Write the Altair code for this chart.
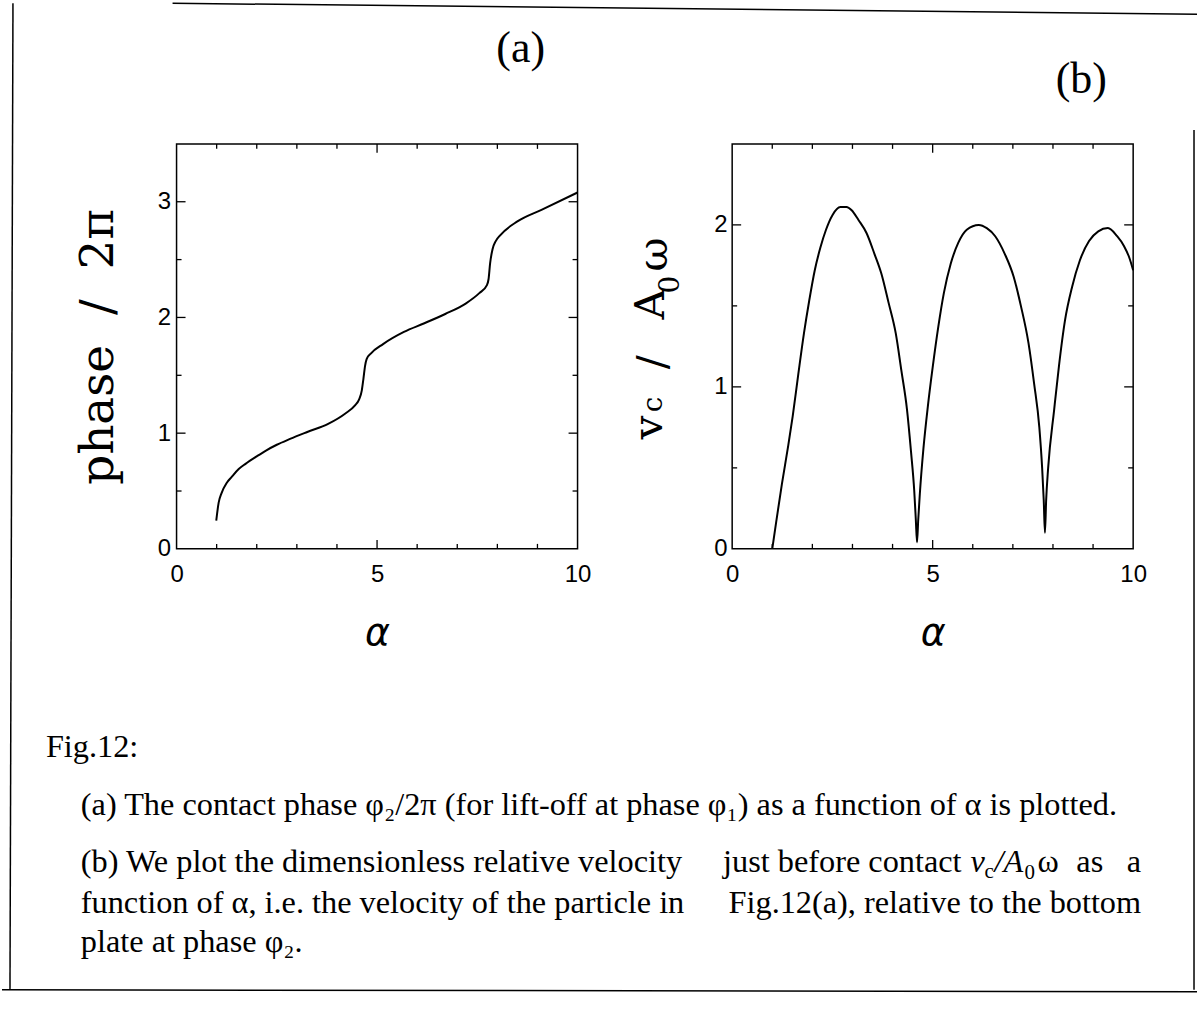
import altair as alt
import pandas as pd

# ---------------- data ----------------
alpha_a = [0.99, 1.05, 1.12, 1.25, 1.37, 1.55, 1.72, 2.0, 2.23, 2.5, 2.83, 3.26, 3.78, 4.21,
           4.45, 4.55, 4.62, 4.66, 4.70, 4.74, 4.85, 5.15, 5.67, 6.18, 6.70, 7.21, 7.55, 7.74,
           7.78, 7.82, 7.88, 7.96, 8.07, 8.50, 9.10, 10.0]
phase_a = [0.245, 0.40, 0.48, 0.57, 0.62, 0.69, 0.735, 0.80, 0.85, 0.90, 0.95, 1.01, 1.08, 1.17,
           1.24, 1.29, 1.37, 1.47, 1.58, 1.64, 1.69, 1.77, 1.875, 1.95, 2.03, 2.12, 2.21, 2.28,
           2.33, 2.47, 2.59, 2.66, 2.71, 2.83, 2.93, 3.08]

alpha_b = [1.0, 1.1, 1.24, 1.4, 1.51, 1.65, 1.79, 1.92, 2.06, 2.2, 2.34, 2.5, 2.7, 2.85, 2.98,
           3.15, 3.35, 3.55, 3.72, 3.9, 4.08, 4.22, 4.36, 4.46, 4.54, 4.58, 4.61, 4.64, 4.68,
           4.77, 4.88, 5.0, 5.14, 5.28, 5.45, 5.64, 5.85, 6.15, 6.35, 6.56, 6.8, 7.02, 7.2,
           7.39, 7.53, 7.66, 7.73, 7.77, 7.80, 7.83, 7.88, 8.03, 8.15, 8.30, 8.48, 8.67, 8.9,
           9.13, 9.37, 9.6, 9.77, 9.9, 10.0]
vel_b = [0.0, 0.17, 0.40, 0.64, 0.82, 1.08, 1.33, 1.53, 1.72, 1.86, 1.97, 2.06, 2.11, 2.11, 2.09,
         2.03, 1.95, 1.82, 1.70, 1.52, 1.33, 1.10, 0.86, 0.60, 0.36, 0.18, 0.04, 0.18, 0.34,
         0.62, 0.88, 1.12, 1.37, 1.58, 1.76, 1.89, 1.97, 2.00, 1.98, 1.93, 1.82, 1.68, 1.50,
         1.27, 1.02, 0.75, 0.50, 0.30, 0.10, 0.30, 0.50, 0.86, 1.13, 1.41, 1.62, 1.78, 1.90,
         1.96, 1.98, 1.93, 1.87, 1.80, 1.72]

x_labels = [0, 5, 10]
x_ticks_major = [5]
x_ticks_minor = [1, 2, 3, 4, 6, 7, 8, 9]
ya_labels = [0, 1, 2, 3]
ya_ticks_major = [1, 2, 3]
ya_ticks_minor = [0.5, 1.5, 2.5]
yb_labels = [0, 1, 2]
yb_ticks_major = [1, 2]
yb_ticks_minor = [0.5, 1.5]

panel_titles = ["(a)", "(b)"]
ya_title = "phase\u00a0\u00a0/\u00a0\u00a02π"
yb_title_parts = ["v", "c", "/", "A", "0", "ω"]
x_title = "α"
caption_fig = "Fig.12:"
caption_a = "(a) The contact phase φ₂/2π (for lift-off at phase φ₁) as a function of α is plotted."
caption_b1 = "(b) We plot the dimensionless relative velocity"
caption_b2 = "just before contact"
caption_b_sym = ["v", "c", "/A", "0", "ω"]
caption_b3 = "as"
caption_b4 = "a"
caption_c1 = "function of α, i.e. the velocity of the particle in"
caption_c2 = "Fig.12(a), relative to the bottom"
caption_d = "plate at phase φ₂."

# ---------------- layout ----------------
W, H = 402, 406
AX, AY = 176, 142      # page position of panel (a) plot origin
BX, BY = 733, 142      # page position of panel (b) plot origin
SERIF = "Liberation Serif"
SANS = "Liberation Sans"
TITLEFONT = "DejaVu Serif"
CAP = 32.4


def txt(s, x, y, size, font=SERIF, align="left", baseline="alphabetic", angle=0,
        style="normal", weight="normal"):
    kw = dict(align=align, baseline=baseline, font=font, fontSize=size,
              fontStyle=style, fontWeight=weight, color="black")
    if angle:
        kw["angle"] = angle
    return alt.Chart(pd.DataFrame({"t": [s]})).mark_text(**kw).encode(
        x=alt.value(x), y=alt.value(y), text="t:N")


def seg(x1, y1, x2, y2, w=1.5):
    return alt.Chart(pd.DataFrame({"d": [0]})).mark_rule(color="black", strokeWidth=w).encode(
        x=alt.value(x1), y=alt.value(y1), x2=alt.value(x2), y2=alt.value(y2))


def x_axis():
    return alt.Axis(values=x_labels, format="d", ticks=False, tickSize=0, domain=False,
                    grid=False, labelFont=SANS, labelFontSize=24, labelColor="black",
                    labelPadding=14, labelFlush=False, labelOverlap=False,
                    title=x_title, titleFont="DejaVu Sans", titleFontSize=38,
                    titleFontStyle="italic", titleFontWeight="normal", titleColor="black",
                    titlePadding=28)


def y_axis(labels, title, pad):
    kw = dict(values=labels, format="d", ticks=False, tickSize=0, domain=False,
              grid=False, labelFont=SANS, labelFontSize=24, labelColor="black",
              labelPadding=pad, labelFlush=False, labelOverlap=False)
    if title:
        kw.update(title=title, titleFont=TITLEFONT, titleFontSize=47,
                  titleFontWeight="normal", titleColor="black", titlePadding=35)
    else:
        kw.update(title=None)
    return alt.Axis(**kw)


def tick_layers(xs, ys, yax, ymaj, ymin):
    out = []
    for vals, ln in [(x_ticks_minor, 5), (x_ticks_major, 9)]:
        d = pd.DataFrame({"v": vals})
        out.append(alt.Chart(d).mark_rule(color="black", strokeWidth=1.3).encode(
            x=alt.X("v:Q", scale=xs, axis=x_axis()), y=alt.value(H), y2=alt.value(H - ln)))
        out.append(alt.Chart(d).mark_rule(color="black", strokeWidth=1.3).encode(
            x=alt.X("v:Q", scale=xs, axis=x_axis()), y=alt.value(0), y2=alt.value(ln)))
    for vals, ln in [(ymin, 5), (ymaj, 9)]:
        d = pd.DataFrame({"v": vals})
        out.append(alt.Chart(d).mark_rule(color="black", strokeWidth=1.3).encode(
            y=alt.Y("v:Q", scale=ys, axis=yax), x=alt.value(0), x2=alt.value(ln)))
        out.append(alt.Chart(d).mark_rule(color="black", strokeWidth=1.3).encode(
            y=alt.Y("v:Q", scale=ys, axis=yax), x=alt.value(W), x2=alt.value(W - ln)))
    return out


xs = alt.Scale(domain=[0, 10], nice=False, zero=False)
ysa = alt.Scale(domain=[0, 3.5], nice=False)
ysb = alt.Scale(domain=[0, 2.5], nice=False)
ya_axis = y_axis(ya_labels, ya_title, 6)
yb_axis = y_axis(yb_labels, None, 5)

df_a = pd.DataFrame({"alpha": alpha_a, "phase": phase_a})
df_b = pd.DataFrame({"alpha": alpha_b, "vel": vel_b})

line_a = alt.Chart(df_a).mark_line(color="black", strokeWidth=2, interpolate="monotone").encode(
    x=alt.X("alpha:Q", scale=xs, axis=x_axis()),
    y=alt.Y("phase:Q", scale=ysa, axis=ya_axis),
)

line_b = alt.Chart(df_b).mark_line(color="black", strokeWidth=2, interpolate="monotone").encode(
    x=alt.X("alpha:Q", scale=xs, axis=x_axis()),
    y=alt.Y("vel:Q", scale=ysb, axis=yb_axis),
)


def ra(px, py):
    return px - AX, py - AY


def rb(px, py):
    return px - BX, py - BY


# decorations of panel (a): title, caption, page frame
deco_a = []
x, y = ra(521, 47)
deco_a.append(txt(panel_titles[0], x, y, 44, align="center", baseline="middle"))
x, y = ra(45, 757)
deco_a.append(txt(caption_fig, x, y, CAP))
x, y = ra(80, 815)
deco_a.append(txt(caption_a, x, y, CAP))
x, y = ra(80, 872)
deco_a.append(txt(caption_b1, x, y, CAP))
x, y = ra(963, 872)
deco_a.append(txt(caption_b2, x, y, CAP, align="right"))
for s, px, dy, size, style in [(caption_b_sym[0], 972, 0, CAP, "italic"),
                               (caption_b_sym[1], 986, 6, 21, "normal"),
                               (caption_b_sym[2], 996, 0, CAP, "italic"),
                               (caption_b_sym[3], 1026, 7, 21, "normal"),
                               (caption_b_sym[4], 1039, 0, CAP, "normal")]:
    x, y = ra(px, 872 + dy)
    deco_a.append(txt(s, x, y, size, style=style))
x, y = ra(1078, 872)
deco_a.append(txt(caption_b3, x, y, CAP))
x, y = ra(1143, 872)
deco_a.append(txt(caption_b4, x, y, CAP, align="right"))
x, y = ra(80, 913)
deco_a.append(txt(caption_c1, x, y, CAP))
x, y = ra(1143, 913)
deco_a.append(txt(caption_c2, x, y, CAP, align="right"))
x, y = ra(80, 952)
deco_a.append(txt(caption_d, x, y, CAP))

# page frame lines
for (p1, p2) in [((12, 1), (9, 990)), ((172, 1), (1199, 12)), ((1, 990), (1199, 992)),
                 ((1196, 128), (1196, 990))]:
    x1, y1 = ra(*p1)
    x2, y2 = ra(*p2)
    deco_a.append(seg(x1, y1, x2, y2))

# decorations of panel (b): title and composed y-axis title
deco_b = []
x, y = rb(1083, 78)
deco_b.append(txt(panel_titles[1], x, y, 44, align="center", baseline="middle"))
for s, px, py, size in [(yb_title_parts[0], 663, 438, 42),
                        (yb_title_parts[1], 663, 411, 28),
                        (yb_title_parts[2], 667, 368, 42),
                        (yb_title_parts[3], 665, 318, 42),
                        (yb_title_parts[4], 680, 292, 28),
                        (yb_title_parts[5], 668, 270, 42)]:
    x, y = rb(px, py)
    deco_b.append(txt(s, x, y, size, font=TITLEFONT, angle=270))

panel_a = alt.layer(line_a, *tick_layers(xs, ysa, ya_axis, ya_ticks_major, ya_ticks_minor),
                    *deco_a).properties(width=W, height=H)
panel_b = alt.layer(line_b, *tick_layers(xs, ysb, yb_axis, yb_ticks_major, yb_ticks_minor),
                    *deco_b).properties(width=W, height=H)

chart = alt.hconcat(panel_a, panel_b, spacing=BX - AX - W, bounds="flush").properties(
    padding={"left": 0, "top": 0, "right": 0, "bottom": 0},
    background="white",
).configure_view(stroke="black", strokeWidth=1.5)

chart.save("out.html", embed_options={"renderer": "svg", "actions": False})
